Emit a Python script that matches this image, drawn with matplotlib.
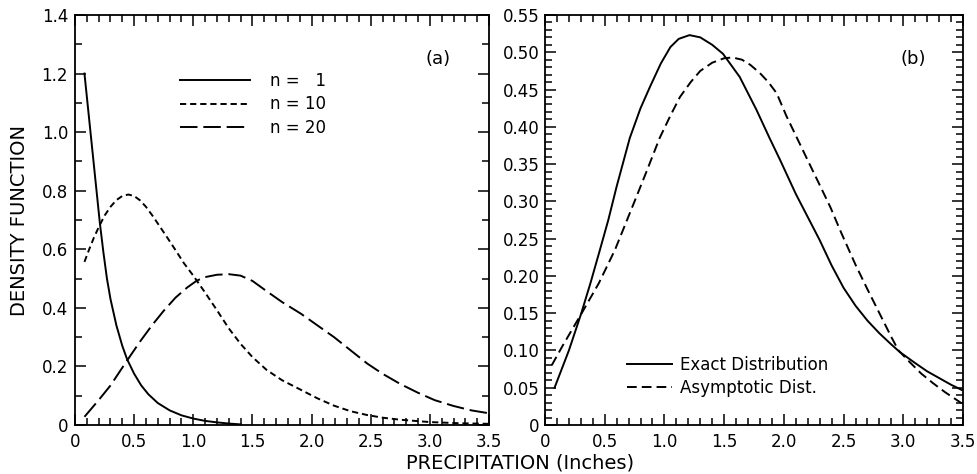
import matplotlib
matplotlib.use("Agg")
import matplotlib.pyplot as plt
from matplotlib.ticker import MultipleLocator, FixedLocator, FixedFormatter

plt.rcParams['font.family'] = ['DejaVu Sans']

# ---------------- data: panel (a) ----------------
n1_x = [0.08, 0.21, 0.24, 0.27, 0.30, 0.35, 0.40, 0.44, 0.50, 0.56, 0.62, 0.70, 0.80, 0.90, 1.0,
        1.1, 1.2, 1.3, 1.4]
n1_y = [1.20, 0.69, 0.59, 0.50, 0.43, 0.34, 0.27, 0.225, 0.175, 0.135, 0.105, 0.075, 0.050, 0.033, 0.022,
        0.014, 0.009, 0.005, 0.002]

n10_x = [0.08, 0.12, 0.16, 0.20, 0.25, 0.30, 0.35, 0.40, 0.45, 0.50, 0.55, 0.60, 0.66, 0.72, 0.78,
         0.85, 0.92, 1.0, 1.1, 1.2, 1.3, 1.4, 1.5, 1.62, 1.75, 1.91, 2.05, 2.19, 2.33, 2.47,
         2.6, 2.75, 3.0, 3.25, 3.5]
n10_y = [0.557, 0.60, 0.64, 0.675, 0.715, 0.745, 0.768, 0.782, 0.787, 0.782, 0.767, 0.745, 0.712, 0.676, 0.64,
         0.597, 0.553, 0.51, 0.452, 0.392, 0.33, 0.277, 0.232, 0.188, 0.153, 0.12, 0.091, 0.066, 0.047, 0.034,
         0.025, 0.018, 0.010, 0.006, 0.004]

n20_x = [0.08, 0.2, 0.3, 0.44, 0.55, 0.65, 0.75, 0.85, 0.95, 1.03, 1.1, 1.2, 1.3, 1.4, 1.5, 1.62,
         1.75, 1.91, 2.05, 2.19, 2.33, 2.47, 2.6, 2.75, 2.9, 3.04, 3.2, 3.35, 3.5]
n20_y = [0.028, 0.085, 0.135, 0.22, 0.285, 0.34, 0.39, 0.435, 0.47, 0.493, 0.505, 0.513, 0.515, 0.51, 0.492, 0.457,
         0.42, 0.38, 0.34, 0.30, 0.255, 0.21, 0.175, 0.14, 0.11, 0.085, 0.065, 0.05, 0.04]

# ---------------- data: panel (b) ----------------
exact_x = [0.08, 0.2, 0.3, 0.38, 0.46, 0.53, 0.6, 0.71, 0.8, 0.88, 0.97, 1.05, 1.12, 1.21, 1.3, 1.4,
           1.49, 1.63, 1.77, 1.88, 1.97, 2.1, 2.2, 2.3, 2.4, 2.5, 2.6, 2.7, 2.8, 2.9, 2.97, 3.1,
           3.2, 3.3, 3.4, 3.49]
exact_y = [0.05, 0.10, 0.148, 0.19, 0.235, 0.275, 0.32, 0.385, 0.425, 0.454, 0.485, 0.507, 0.518, 0.523, 0.52,
           0.51, 0.498, 0.467, 0.423, 0.385, 0.355, 0.31, 0.279, 0.248, 0.214, 0.184, 0.160, 0.140, 0.123,
           0.108, 0.098, 0.083, 0.072, 0.063, 0.054, 0.047]

asym_x = [0.056, 0.15, 0.3, 0.45, 0.586, 0.75, 0.85, 0.96, 1.05, 1.13, 1.22, 1.3, 1.4, 1.5, 1.57, 1.65,
          1.72, 1.80, 1.87, 1.94, 2.02, 2.11, 2.2, 2.3, 2.39, 2.48, 2.6, 2.7, 2.8, 2.9, 2.96, 3.05,
          3.15, 3.25, 3.35, 3.49]
asym_y = [0.080, 0.107, 0.148, 0.19, 0.235, 0.30, 0.34, 0.385, 0.415, 0.44, 0.46, 0.475, 0.486, 0.492, 0.493,
          0.49, 0.483, 0.472, 0.46, 0.445, 0.415, 0.385, 0.355, 0.322, 0.292, 0.258, 0.215, 0.182, 0.150,
          0.118, 0.100, 0.085, 0.069, 0.056, 0.044, 0.029]

xticks = [0, 0.5, 1.0, 1.5, 2.0, 2.5, 3.0, 3.5]
xticklabels = ["0", "0.5", "1.0", "1.5", "2.0", "2.5", "3.0", "3.5"]
a_yticks = [0, 0.2, 0.4, 0.6, 0.8, 1.0, 1.2, 1.4]
a_yticklabels = ["0", "0.2", "0.4", "0.6", "0.8", "1.0", "1.2", "1.4"]
b_yticks = [0, 0.05, 0.10, 0.15, 0.20, 0.25, 0.30, 0.35, 0.40, 0.45, 0.50, 0.55]
b_yticklabels = ["0", "0.05", "0.10", "0.15", "0.20", "0.25", "0.30", "0.35", "0.40", "0.45", "0.50", "0.55"]

W, H = 978, 474
fig = plt.figure(figsize=(W / 100, H / 100), dpi=100)
axa = fig.add_axes([75 / W, (H - 425) / H, 414 / W, 410 / H])
axb = fig.add_axes([545 / W, (H - 425) / H, 418 / W, 410 / H])

lw = 1.4
axa.plot(n1_x, n1_y, color='black', lw=lw, label='n =   1')
axa.plot(n10_x, n10_y, color='black', lw=lw, dashes=(3.2, 2.0), label='n = 10')
axa.plot(n20_x, n20_y, color='black', lw=lw, dashes=(9.0, 3.0), label='n = 20')

axb.plot(exact_x, exact_y, color='black', lw=lw, label='Exact Distribution')
axb.plot(asym_x, asym_y, color='black', lw=lw, dashes=(5.0, 2.6), label='Asymptotic Dist.')

for ax in (axa, axb):
    ax.set_xlim(0, 3.5)
    ax.xaxis.set_major_locator(FixedLocator(xticks))
    ax.xaxis.set_major_formatter(FixedFormatter(xticklabels))
    ax.xaxis.set_minor_locator(MultipleLocator(0.1))
    for s in ax.spines.values():
        s.set_linewidth(1.3)
    ax.tick_params(which='both', direction='in', top=True, right=True, width=1.1,
                   labelsize=12)
    ax.tick_params(which='major', length=8)
    ax.tick_params(which='minor', length=5)
    ax.tick_params(axis='x', which='major', pad=6)

axa.set_ylim(0, 1.4)
axa.yaxis.set_major_locator(FixedLocator(a_yticks))
axa.yaxis.set_major_formatter(FixedFormatter(a_yticklabels))
axa.yaxis.set_minor_locator(MultipleLocator(0.1))
axa.tick_params(axis='y', which='major', pad=5)

axb.set_ylim(0, 0.55)
axb.yaxis.set_major_locator(FixedLocator(b_yticks))
axb.yaxis.set_major_formatter(FixedFormatter(b_yticklabels))
axb.yaxis.set_minor_locator(MultipleLocator(0.01))
axb.tick_params(axis='y', which='major', pad=4)

axa.text(0.877, 0.893, "(a)", transform=axa.transAxes, fontsize=13, ha='center', va='center')
axb.text(0.880, 0.893, "(b)", transform=axb.transAxes, fontsize=13, ha='center', va='center')

axa.legend(loc='upper left', bbox_to_anchor=(0.254, 0.862), frameon=False, fontsize=12,
           handlelength=4.2, handletextpad=1.2, labelspacing=0.35, borderpad=0, borderaxespad=0)
axb.legend(loc='upper left', bbox_to_anchor=(0.196, 0.168), frameon=False, fontsize=12,
           handlelength=2.7, handletextpad=0.5, labelspacing=0.3, borderpad=0, borderaxespad=0)

fig.text(520 / W, 1 - 463 / H, "PRECIPITATION (Inches)", fontsize=14, ha='center', va='center')
fig.text(20 / W, 1 - 221 / H, "DENSITY FUNCTION", fontsize=14, ha='center', va='center', rotation=90)

fig.savefig("out.png", dpi=100)
